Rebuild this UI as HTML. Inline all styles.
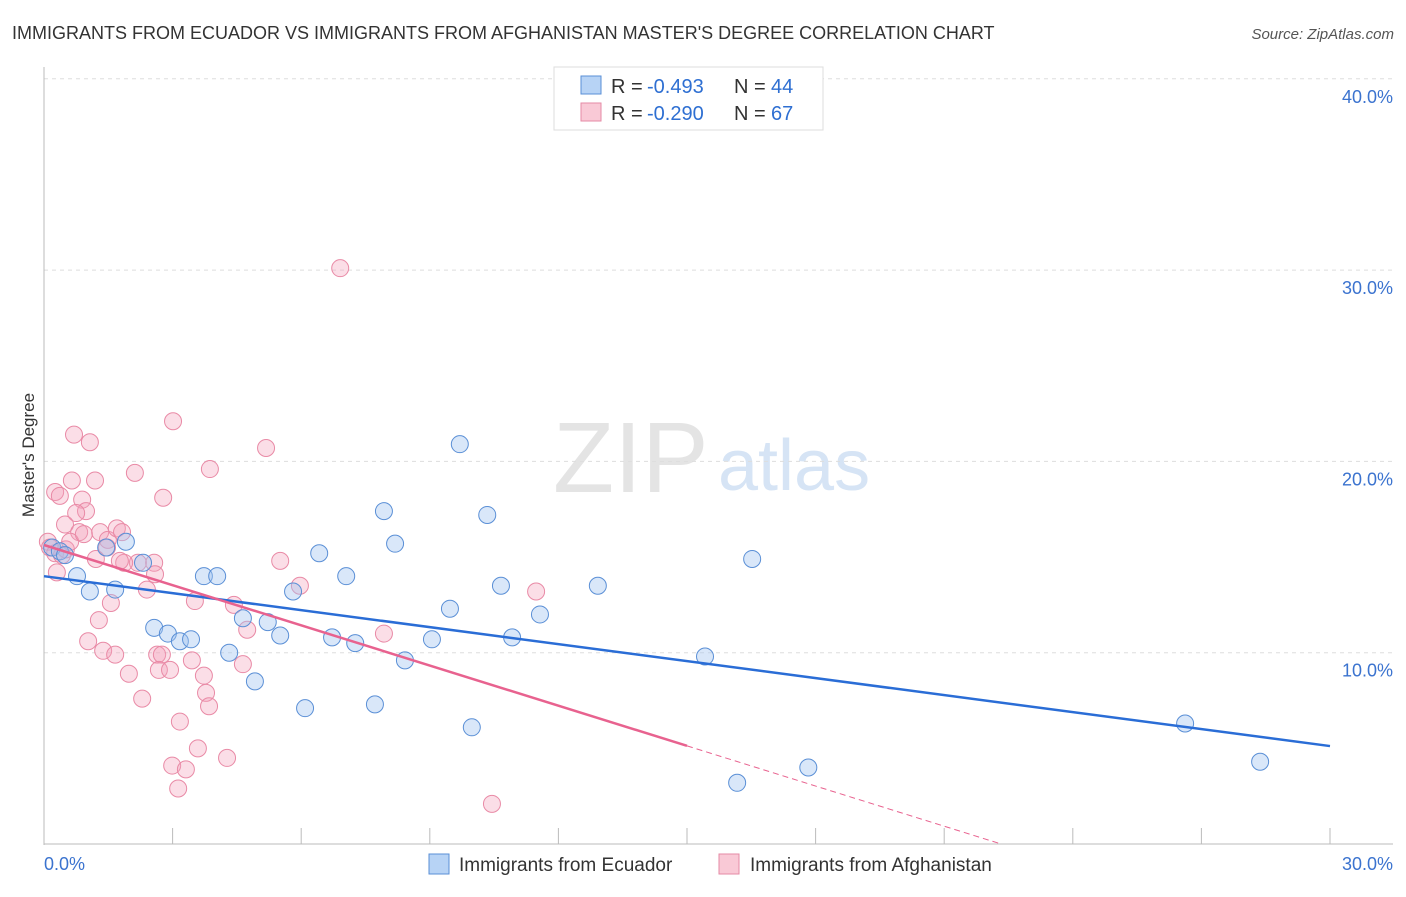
<!DOCTYPE html>
<html><head><meta charset="utf-8"><style>
body{margin:0;background:#fff;font-family:"Liberation Sans",sans-serif}
svg text{font-family:"Liberation Sans",sans-serif}
</style></head><body>
<svg id="c" width="1406" height="892">
<text x="12" y="39" font-size="18" fill="#333">IMMIGRANTS FROM ECUADOR VS IMMIGRANTS FROM AFGHANISTAN MASTER'S DEGREE CORRELATION CHART</text>
<text x="1394" y="39" font-size="15" fill="#555" text-anchor="end" font-style="italic">Source: ZipAtlas.com</text>
<text x="553" y="492" font-size="100" fill="#e4e4e4" font-family="Liberation Serif">ZIP</text>
<text x="718" y="490" font-size="72" fill="#d6e4f5">atlas</text>
<text transform="translate(34,455) rotate(-90)" font-size="17" fill="#333" text-anchor="middle">Master's Degree</text>
<g id="grid"></g><g id="pts"></g><g id="lines"></g>
<g>
<rect x="554" y="67" width="269" height="63" fill="#fff" stroke="#ddd"/>
<rect x="581" y="76" width="20" height="18" fill="#b7d3f5" stroke="#5a8fd6"/>
<rect x="581" y="103" width="20" height="18" fill="#f9c9d6" stroke="#e58aa5"/>
<text x="611" y="93" font-size="20" fill="#333">R =</text>
<text x="647" y="93" font-size="20" fill="#2e6fd2">-0.493</text>
<text x="734" y="93" font-size="20" fill="#333">N =</text>
<text x="771" y="93" font-size="20" fill="#2e6fd2">44</text>
<text x="611" y="120" font-size="20" fill="#333">R =</text>
<text x="647" y="120" font-size="20" fill="#2e6fd2">-0.290</text>
<text x="734" y="120" font-size="20" fill="#333">N =</text>
<text x="771" y="120" font-size="20" fill="#2e6fd2">67</text>
</g>
<g>
<rect x="429" y="854" width="20" height="20" fill="#b7d3f5" stroke="#5a8fd6"/>
<text x="459" y="871" font-size="19" fill="#333">Immigrants from Ecuador</text>
<rect x="719" y="854" width="20" height="20" fill="#f9c9d6" stroke="#e58aa5"/>
<text x="750" y="871" font-size="19" fill="#333">Immigrants from Afghanistan</text>
</g>
<text x="44" y="870" font-size="18" fill="#3b73cf">0.0%</text>
<text x="1393" y="870" font-size="18" fill="#3b73cf" text-anchor="end">30.0%</text>
</svg>
<script>
const yTicks=[10,20,30,40];
const xTicks=[0,3,6,9,12,15,18,21,24,27,30];
const blueX=[0.19,0.37,0.49,0.77,1.07,1.45,1.66,1.91,2.31,2.57,2.89,3.17,3.43,3.73,4.04,4.32,4.64,4.92,5.22,5.51,5.81,6.09,6.42,6.72,7.05,7.26,7.72,7.93,8.19,8.42,9.05,9.47,9.70,9.98,10.34,10.66,10.92,11.57,12.92,15.42,16.17,16.52,17.83,26.62,28.37];
const blueY=[15.5,15.3,15.1,14.0,13.2,15.5,13.3,15.8,14.7,11.3,11.0,10.6,10.7,14.0,14.0,10.0,11.8,8.5,11.6,10.9,13.2,7.1,15.2,10.8,14.0,10.5,7.3,17.4,15.7,9.6,10.7,12.3,20.9,6.1,17.2,13.5,10.8,12.0,13.5,9.8,3.2,14.9,4.0,6.3,4.3];
const pinkX=[0.09,0.14,0.26,0.30,0.42,0.51,0.26,0.37,0.70,1.07,0.65,0.89,0.98,0.75,1.19,0.49,0.82,0.61,0.93,1.21,1.31,1.49,1.70,1.82,1.56,1.28,1.03,1.38,1.66,1.98,2.29,2.12,2.78,3.01,3.87,5.18,6.91,2.19,1.87,2.57,2.40,2.59,2.64,2.75,2.68,2.94,3.17,3.45,3.52,3.73,3.78,3.85,2.99,3.13,3.31,3.59,4.27,4.43,4.64,4.74,5.51,5.97,7.93,10.45,11.48,1.77,1.47];
const pinkY=[15.8,15.5,15.2,14.2,15.1,15.4,18.4,18.2,21.4,21.0,19.0,18.0,17.4,17.3,19.0,16.7,16.3,15.8,16.2,14.9,16.3,15.9,16.5,16.3,12.6,11.7,10.6,10.1,9.9,8.9,7.6,19.4,18.1,22.1,19.6,20.7,30.1,14.7,14.7,14.7,13.3,14.1,9.9,9.9,9.1,9.1,6.4,9.6,12.7,8.8,7.9,7.2,4.1,2.9,3.9,5.0,4.5,12.5,9.4,11.2,14.8,13.5,11.0,2.1,13.2,14.8,15.5];
const blueTrend=[14.0,-0.296];
const pinkTrend=[15.63,-0.70];
const X=v=>44+v/30*1286, Y=v=>844-v*19.13;
const NS='http://www.w3.org/2000/svg';
function mk(t,a,p){const e=document.createElementNS(NS,t);for(const k in a)e.setAttribute(k,a[k]);document.getElementById(p).appendChild(e);return e;}
yTicks.forEach(v=>{
 const l=mk('line',{x1:44,x2:1393,y1:Y(v),y2:Y(v),stroke:'#ddd','stroke-dasharray':'4,4'},'grid');
 
 
 const t=mk('text',{x:1393,y:Y(v)+24,'font-size':18,fill:'#3b73cf','text-anchor':'end'},'grid');t.textContent=v.toFixed(1)+'%';
 
 
});
mk('line',{x1:44,x2:44,y1:67,y2:845,stroke:'#bbb'},'grid');
mk('line',{x1:44,x2:1393,y1:844,y2:844,stroke:'#bbb'},'grid');
xTicks.forEach(v=>{const t=mk('line',{x1:X(v),x2:X(v),y1:828,y2:844,stroke:'#bbb'},'grid');
 
 });
pinkX.forEach((x,i)=>{const c=mk('circle',{cx:X(x),cy:Y(pinkY[i]),r:8.5,fill:'rgba(244,160,185,0.35)',stroke:'#e98aa6','stroke-width':1},'pts');
 
 });
blueX.forEach((x,i)=>{const c=mk('circle',{cx:X(x),cy:Y(blueY[i]),r:8.5,fill:'rgba(160,195,240,0.4)',stroke:'#5a8fd6','stroke-width':1},'pts');
 
 });
const [ba,bb]=blueTrend;
let l=mk('line',{x1:X(0),y1:Y(ba),x2:X(30),y2:Y(ba+bb*30),stroke:'#2a6dd6','stroke-width':2.5},'lines');


const [pa,pb]=pinkTrend;
l=mk('line',{x1:X(0),y1:Y(pa),x2:X(15),y2:Y(pa+pb*15),stroke:'#e8628f','stroke-width':2.5},'lines');


const xe=Math.min(30,-pa/pb);
l=mk('line',{x1:X(15),y1:Y(pa+pb*15),x2:X(xe),y2:Y(pa+pb*xe),stroke:'#e8628f','stroke-width':1,'stroke-dasharray':'6,4'},'lines');


</script>
</body></html>
